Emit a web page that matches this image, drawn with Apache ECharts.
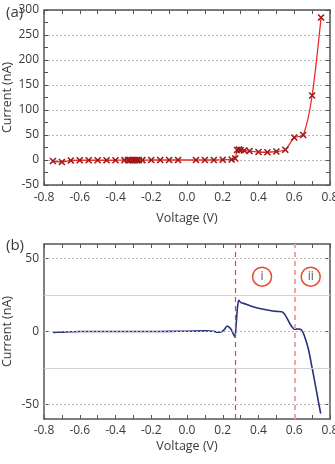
<!DOCTYPE html>
<html>
<head>
<meta charset="utf-8">
<script src="https://cdn.jsdelivr.net/npm/echarts@6/dist/echarts.min.js"></script>
<style>
html,body{margin:0;padding:0;background:#fff;}
#chart{width:335px;height:464px;}
</style>
</head>
<body>
<div id="chart"></div>
<script>
// ---- Panel (a): I-V curve ----
var voltageA = [-0.75,-0.70,-0.65,-0.60,-0.55,-0.50,-0.45,-0.40,-0.35,-0.33,-0.32,-0.31,-0.30,-0.29,-0.28,-0.27,-0.25,-0.20,-0.15,-0.10,-0.05,0.05,0.10,0.15,0.20,0.25,0.27,0.28,0.29,0.30,0.32,0.35,0.40,0.45,0.50,0.55,0.60,0.65,0.70,0.75];
var currentA = [-2,-4,-1,-0.5,-0.5,-0.5,-0.5,-0.5,-0.3,-0.3,-0.3,-0.3,-0.3,-0.3,-0.3,-0.3,-0.2,0,0,0,0,0,0,0,0.5,1,3,20,21,20,19,18,16,15.5,17,20.5,45,50,129,285];

// ---- Panel (b): difference curve ----
var voltageB = [-0.75,-0.70,-0.65,-0.60,-0.50,-0.40,-0.30,-0.20,-0.10,0.00,0.10,0.15,0.17,0.19,0.21,0.225,0.24,0.25,0.26,0.268,0.275,0.282,0.29,0.30,0.31,0.33,0.36,0.40,0.45,0.50,0.53,0.545,0.56,0.575,0.59,0.60,0.62,0.635,0.65,0.665,0.68,0.70,0.72,0.735,0.748];
var currentB = [-0.7,-0.4,-0.2,0,0,0,0,0,0.1,0.2,0.4,0.2,-0.5,-0.3,1.5,3.8,2.5,0.8,-2,-3.8,5,16,21.4,20,19.5,18.7,17.3,16,14.8,13.8,13.5,12,9,5.5,2.8,1.6,1.7,1.5,-1,-6,-12.5,-25,-38,-48,-56.3];

// ---- axes / annotations ----
var xTicks = [-0.8,-0.6,-0.4,-0.2,0.0,0.2,0.4,0.6,0.8];
var yTicksA = [-50,0,50,100,150,200,250,300];
var yTicksB = [-50,0,50];
var yMinorB = [-50,-25,0,25,50];
var dottedB = [-50,0,50];
var solidB = [-25,25];
var regionBounds = [0.27,0.6];
var regionNames = ['i','ii'];
var regionV = [0.42,0.692];
var regionI = [37.6,37.6];
var panelLabels = ['(a)','(b)'];

var FONT = 'Open Sans';
var TXT = '#3a3a3a';
var FRAME = '#555';

function pairs(xs, ys){ return xs.map(function(x,i){ return [x, ys[i]]; }); }

function xAx(grid, pos, show, margin, gap){
  return {
    type:'value', gridIndex:grid, position:pos, min:-0.8, max:0.8, interval:0.2,
    axisLine:{show:true, onZero:false, lineStyle:{color:FRAME, width:1.5}},
    axisTick:{show:true, inside:true, length:4, lineStyle:{color:FRAME, width:1}},
    minorTick:{show:true, splitNumber:2, length:4, lineStyle:{color:FRAME, width:1}},
    axisLabel:{show:show, margin:margin, color:TXT, fontFamily:FONT, fontSize:12,
      formatter:function(v){ var t = xTicks.find(function(k){return Math.abs(k-v)<1e-6;}); return t===undefined? '' : (Math.abs(t)<1e-9? '0.0' : t.toFixed(1)); }},
    splitLine:{show:false},
    name: show ? 'Voltage (V)' : '', nameLocation:'middle', nameGap:gap, nameMoveOverlap:false,
    nameTextStyle:{color:TXT, fontFamily:FONT, fontSize:12.5}
  };
}

var option = {
  animation:false,
  backgroundColor:'#fff',
  title:[
    {text:panelLabels[0], left:1, top:0, textStyle:{color:TXT, fontFamily:FONT, fontSize:15, fontWeight:'normal'}},
    {text:panelLabels[1], left:1, top:233, textStyle:{color:TXT, fontFamily:FONT, fontSize:15, fontWeight:'normal'}}
  ],
  grid:[
    {left:44, right:5, top:10, height:175, containLabel:false, outerBoundsMode:'none'},
    {left:44, right:5, top:244, height:175, containLabel:false, outerBoundsMode:'none'}
  ],
  xAxis:[ xAx(0,'bottom',true,7,27), xAx(0,'top',false,7,0), xAx(1,'bottom',true,6,21), xAx(1,'top',false,6,0) ],
  yAxis:[
    {type:'value', gridIndex:0, position:'left', min:-50, max:300, interval:50,
     axisLine:{show:true, onZero:false, lineStyle:{color:FRAME, width:1.5}},
     axisTick:{show:true, inside:true, length:4, lineStyle:{color:FRAME}},
     minorTick:{show:true, splitNumber:2, length:4, lineStyle:{color:FRAME}},
     axisLabel:{margin:5, color:TXT, fontFamily:FONT, fontSize:12,
       formatter:function(v){ return yTicksA.indexOf(v)>=0 ? String(v) : ''; }},
     splitLine:{show:true, lineStyle:{color:'#b5b5b5', type:[2,2], width:1}},
     name:'Current (nA)', nameLocation:'middle', nameGap:30, nameMoveOverlap:false,
     nameTextStyle:{color:TXT, fontFamily:FONT, fontSize:12.5}},
    {type:'value', gridIndex:0, position:'right', min:-50, max:300, interval:50,
     axisLine:{show:true, onZero:false, lineStyle:{color:FRAME, width:1.5}},
     axisTick:{show:true, inside:true, length:4, lineStyle:{color:FRAME}},
     minorTick:{show:true, splitNumber:2, length:4, lineStyle:{color:FRAME}},
     axisLabel:{show:false}, splitLine:{show:false}},
    {type:'value', gridIndex:1, position:'left', min:-60, max:60,
     axisLine:{show:true, onZero:false, lineStyle:{color:FRAME, width:1.5}},
     axisTick:{show:true, inside:true, length:4, customValues:yMinorB, lineStyle:{color:FRAME}},
     axisLabel:{margin:5, color:TXT, fontFamily:FONT, fontSize:12, customValues:yTicksB},
     splitLine:{show:false},
     name:'Current (nA)', nameLocation:'middle', nameGap:30, nameMoveOverlap:false,
     nameTextStyle:{color:TXT, fontFamily:FONT, fontSize:12.5}},
    {type:'value', gridIndex:1, position:'right', min:-60, max:60,
     axisLine:{show:true, onZero:false, lineStyle:{color:FRAME, width:1.5}},
     axisTick:{show:true, inside:true, length:4, customValues:yMinorB, lineStyle:{color:FRAME}},
     axisLabel:{show:false}, splitLine:{show:false}}
  ],
  series:[
    {
      type:'line', xAxisIndex:0, yAxisIndex:0, data:pairs(voltageA,currentA),
      smooth:0.25, symbol:'path://M0,0L10,10M10,0L0,10', symbolSize:6, symbolKeepAspect:true,
      lineStyle:{color:'#ee2a2a', width:1.3},
      itemStyle:{color:'#9e1a1a', borderColor:'#9e1a1a', borderWidth:1.6},
      z:3
    },
    {
      type:'line', xAxisIndex:2, yAxisIndex:2, data:pairs(voltageB,currentB),
      showSymbol:false, lineStyle:{opacity:0}, silent:true, z:1,
      markLine:{
        silent:true, symbol:'none', label:{show:false}, animation:false,
        data: dottedB.map(function(v){ return {yAxis:v, lineStyle:{color:'#b5b5b5', type:[2,2], width:1}}; })
          .concat(solidB.map(function(v){ return {yAxis:v, lineStyle:{color:'#d2d2d2', type:'solid', width:1}}; }))
      }
    },
    {
      type:'line', xAxisIndex:2, yAxisIndex:2, data:pairs(voltageB,currentB),
      smooth:0.3, showSymbol:false,
      lineStyle:{color:'#283080', width:1.6},
      z:3,
      markLine:{
        silent:true, symbol:'none', label:{show:false}, animation:false,
        data:[
          {xAxis:regionBounds[0], lineStyle:{color:'#e2453f', type:[5,4], width:1.2}},
          {xAxis:regionBounds[1], lineStyle:{color:'#f3a3a3', type:[5,4], width:2}}
        ]
      },
      markPoint:{
        silent:true, symbol:'circle', symbolSize:19,
        itemStyle:{color:'#ffffff', borderColor:'#ea4a2c', borderWidth:1.5},
        label:{show:true, formatter:'{b}', color:'#555', fontFamily:FONT, fontSize:12},
        data: regionNames.map(function(n,i){ return {name:n, coord:[regionV[i], regionI[i]]}; })
      }
    }
  ]
};

var chart = echarts.init(document.getElementById('chart'), null, {renderer:'canvas'});
chart.setOption(option);
</script>
</body>
</html>
